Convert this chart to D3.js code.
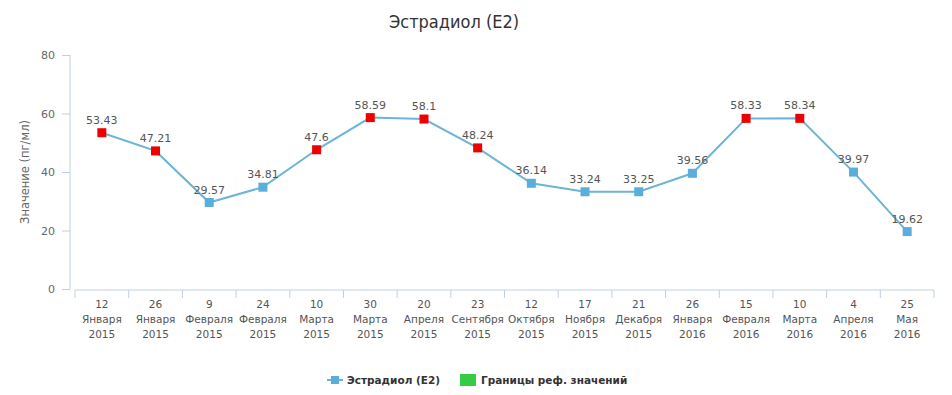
<!DOCTYPE html>
<html>
<head>
<meta charset="utf-8">
<script src="https://cdn.jsdelivr.net/npm/d3@7"></script>
<style>
  body { margin: 0; background: #fff; }
  svg { display: block; }
</style>
</head>
<body>
<svg id="chart"></svg>
<script>
// dates on the x axis: day / month / year
var days = ["12", "26", "9", "24", "10", "30", "20", "23", "12", "17", "21", "26", "15", "10", "4", "25"];
var months = ["Января", "Января", "Февраля", "Февраля", "Марта", "Марта", "Апреля", "Сентября",
              "Октября", "Ноября", "Декабря", "Января", "Февраля", "Марта", "Апреля", "Мая"];
var years = ["2015", "2015", "2015", "2015", "2015", "2015", "2015", "2015",
             "2015", "2015", "2015", "2016", "2016", "2016", "2016", "2016"];
var values = [53.43, 47.21, 29.57, 34.81, 47.6, 58.59, 58.1, 48.24,
              36.14, 33.24, 33.25, 39.56, 58.33, 58.34, 39.97, 19.62];
// points outside the reference range are drawn red
var outOfRange = [true, true, false, false, true, true, true, true,
                  false, false, false, false, true, true, false, false];
var yTicks = [0, 20, 40, 60, 80];

var width = 952, height = 395;
var svg = d3.select("#chart").attr("width", width).attr("height", height);

var x = d3.scaleBand().domain(d3.range(values.length)).range([75, 934]);
var y = d3.scaleLinear().domain([0, 80]).range([289, 55]);

var axisColor = "#c0d0e0";
var textColor = "#555";
var font = "'DejaVu Sans', sans-serif";

// title
svg.append("text")
    .attr("x", 454).attr("y", 28)
    .attr("text-anchor", "middle")
    .style("font-family", "'DejaVu Sans Condensed', 'Liberation Sans Narrow', sans-serif")
    .style("font-size", "18px")
    .style("fill", "#333")
    .text("Эстрадиол (E2)");

// y axis
var yAxis = svg.append("g")
    .attr("transform", "translate(70,0)")
    .call(d3.axisLeft(y).tickValues(yTicks).tickSize(8).tickPadding(7));
yAxis.select(".domain").attr("stroke", axisColor).attr("d", "M0," + y(80) + "V" + y(0));
yAxis.selectAll(".tick line").attr("stroke", axisColor);
yAxis.selectAll(".tick text")
    .style("font-family", font)
    .style("font-size", "11px")
    .style("fill", "#666");

svg.append("text")
    .attr("transform", "translate(29," + ((y(0) + y(80)) / 2) + ") rotate(-90)")
    .attr("text-anchor", "middle")
    .style("font-family", font)
    .style("font-size", "11.5px")
    .style("fill", "#666")
    .text("Значение (пг/мл)");

// x axis: line plus ticks at band edges
var xg = svg.append("g").attr("transform", "translate(0,290)");
xg.append("line")
    .attr("x1", x.range()[0]).attr("x2", x.range()[1])
    .attr("stroke", axisColor);
xg.selectAll("line.tk")
    .data(d3.range(values.length + 1))
    .enter().append("line")
    .attr("class", "tk")
    .attr("x1", function (i) { return x.range()[0] + i * x.step(); })
    .attr("x2", function (i) { return x.range()[0] + i * x.step(); })
    .attr("y1", 0).attr("y2", 8)
    .attr("stroke", axisColor);

var labels = xg.selectAll("text.xl")
    .data(d3.range(values.length))
    .enter().append("text")
    .attr("class", "xl")
    .attr("text-anchor", "middle")
    .style("font-family", font)
    .style("font-size", "10.5px")
    .style("fill", textColor);
labels.each(function (i) {
    var t = d3.select(this);
    var cx = x(i) + x.bandwidth() / 2;
    [days[i], months[i], years[i]].forEach(function (s, k) {
        t.append("tspan").attr("x", cx).attr("y", 18 + k * 15).text(s);
    });
});

// line
var line = d3.line()
    .x(function (d, i) { return x(i) + x.bandwidth() / 2; })
    .y(function (d) { return y(d); });

svg.append("path")
    .datum(values)
    .attr("d", line)
    .attr("fill", "none")
    .attr("stroke", "#6cb5d6")
    .attr("stroke-width", 2);

// markers
svg.selectAll("rect.pt")
    .data(values)
    .enter().append("rect")
    .attr("class", "pt")
    .attr("x", function (d, i) { return x(i) + x.bandwidth() / 2 - 4.5; })
    .attr("y", function (d) { return y(d) - 4.5; })
    .attr("width", 9).attr("height", 9)
    .attr("fill", function (d, i) { return outOfRange[i] ? "#ee0000" : "#5aaedb"; });

// data labels
svg.selectAll("text.dl")
    .data(values)
    .enter().append("text")
    .attr("class", "dl")
    .attr("x", function (d, i) { return x(i) + x.bandwidth() / 2; })
    .attr("y", function (d) { return y(d) - 9; })
    .attr("text-anchor", "middle")
    .style("font-family", font)
    .style("font-size", "11px")
    .style("fill", textColor)
    .text(function (d) { return d; });

// legend
var lg = svg.append("g").attr("transform", "translate(0,380)");
lg.append("line").attr("x1", 327).attr("x2", 343).attr("y1", 0).attr("y2", 0)
    .attr("stroke", "#6cb5d6").attr("stroke-width", 2);
lg.append("rect").attr("x", 331).attr("y", -4).attr("width", 8).attr("height", 8).attr("fill", "#5aaedb");
lg.append("text").attr("x", 347).attr("y", 4)
    .style("font-family", font)
    .style("font-size", "10.5px").style("font-weight", "bold").style("fill", "#333")
    .text("Эстрадиол (E2)");
lg.append("rect").attr("x", 460).attr("y", -6).attr("width", 16).attr("height", 12).attr("fill", "#33cc44");
lg.append("text").attr("x", 481).attr("y", 4)
    .style("font-family", font)
    .style("font-size", "10.5px").style("font-weight", "bold").style("fill", "#333")
    .text("Границы реф. значений");
</script>
</body>
</html>
